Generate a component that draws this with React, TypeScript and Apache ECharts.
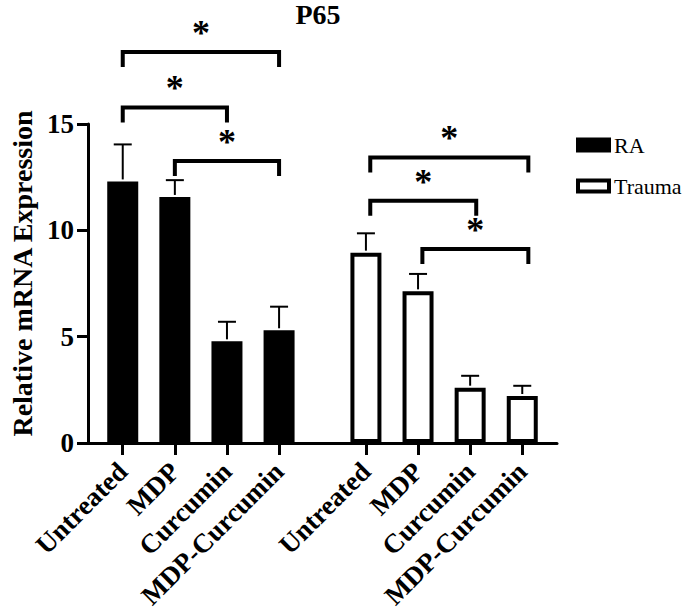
import React, { useEffect, useRef } from "react";
import * as echarts from "echarts";

// ---------------- data ----------------
const groups = ["RA", "Trauma"];
const treatments = ["Untreated", "MDP", "Curcumin", "MDP-Curcumin"];
const raMeans = [12.3, 11.57, 4.78, 5.3];
const raUpper = [14.04, 12.36, 5.7, 6.41];
const traumaMeans = [8.95, 7.13, 2.6, 2.21];
const traumaUpper = [9.86, 7.95, 3.16, 2.69];
const yTicks = [0, 5, 10, 15];
const titleText = "P65";
const yName = "Relative mRNA Expression";
// significance brackets: [fromIndex, toIndex, level]
const raBrackets = [
  [0, 3, 18.38],
  [0, 2, 15.78],
  [1, 3, 13.26],
];
const traumaBrackets = [
  [0, 3, 13.43],
  [0, 2, 11.39],
  [1, 3, 9.12],
];
const sigMark = "*";

// ---------------- layout (x positions in axis units) ----------------
const firstPos = 2;
const stepPos = 3;
const groupOffset = 14;
const xMax = 27;
const pos = (g: number, i: number) => firstPos + g * groupOffset + i * stepPos;

const allPositions: number[] = [];
const allLabels: string[] = [];
groups.forEach((_, g) =>
  treatments.forEach((t, i) => {
    allPositions.push(pos(g, i));
    allLabels.push(t);
  })
);

const FONT = '"Liberation Serif", "Times New Roman", serif';

export default function App() {
  const ref = useRef<HTMLDivElement>(null);
  useEffect(() => {
    document.body.style.margin = "0";
    if (!ref.current) return;
    const chart = echarts.init(ref.current, undefined, { renderer: "svg" });

    const errData = [
      ...raMeans.map((m, i) => [pos(0, i), m, raUpper[i]]),
      ...traumaMeans.map((m, i) => [pos(1, i), m, traumaUpper[i]]),
    ];
    const brData = [
      ...raBrackets.map((b) => [pos(0, b[0]), pos(0, b[1]), b[2]]),
      ...traumaBrackets.map((b) => [pos(1, b[0]) + 0.25, pos(1, b[1]) + 0.35, b[2]]),
    ];

    chart.setOption({
      animation: false,
      title: {
        text: titleText,
        left: 318,
        textAlign: "center",
        top: 0,
        padding: 0,
        textStyle: { fontFamily: FONT, fontWeight: "bold", fontSize: 28, color: "#000" },
      },
      legend: {
        data: groups,
        orient: "vertical",
        left: 576,
        top: 134,
        padding: 0,
        itemWidth: 31,
        itemHeight: 11,
        itemGap: 19,
        icon: "rect",
        itemStyle: { borderWidth: 4, borderColor: "#000" },
        textStyle: { fontFamily: FONT, fontSize: 22, color: "#000", lineHeight: 22, padding: [0, 0, 0, 0] },
      },
      grid: { left: 77, right: 128, top: 124, bottom: 170 },
      xAxis: {
        type: "value",
        min: 0,
        max: xMax,
        splitLine: { show: false },
        axisLine: { show: true, lineStyle: { color: "#000", width: 3 } },
        axisTick: { show: true, length: 12, lineStyle: { color: "#000", width: 3 }, customValues: allPositions },
        axisLabel: {
          customValues: allPositions,
          formatter: (v: number) => {
            const k = allPositions.findIndex((p) => Math.abs(p - v) < 1e-6);
            return k >= 0 ? allLabels[k] : "";
          },
          rotate: 45,
          margin: 24,
          padding: [24, 0, 0, 0],
          fontFamily: FONT,
          fontWeight: "bold",
          fontSize: 27,
          color: "#000",
        },
      },
      yAxis: {
        type: "value",
        min: 0,
        max: 15,
        interval: 5,
        splitLine: { show: false },
        axisLine: { show: true, lineStyle: { color: "#000", width: 3 } },
        axisTick: { show: true, length: 11, lineStyle: { color: "#000", width: 3 } },
        axisLabel: {
          margin: 14,
          fontFamily: FONT,
          fontWeight: "bold",
          fontSize: 27,
          color: "#000",
          formatter: (v: number) => (yTicks.includes(v) ? String(v) : ""),
        },
        name: yName,
        nameLocation: "middle",
        nameGap: 52,
        nameTextStyle: { fontFamily: FONT, fontWeight: "bold", fontSize: 28, color: "#000", padding: [0, 0, 0, 20] },
      },
      series: [
        {
          name: groups[0],
          type: "bar",
          barWidth: 31,
          barGap: "-100%",
          data: raMeans.map((v, i) => [pos(0, i), v]),
          itemStyle: { color: "#000", borderColor: "#000", borderWidth: 4 },
        },
        {
          name: groups[1],
          type: "bar",
          barWidth: 31,
          barGap: "-100%",
          data: traumaMeans.map((v, i) => [pos(1, i), v]),
          itemStyle: { color: "#fff", borderColor: "#000", borderWidth: 4 },
        },
        {
          type: "custom",
          name: "err",
          z: 3,
          encode: { x: 0, y: [1, 2] },
          data: errData,
          renderItem: (params: any, api: any) => {
            const x = api.value(0);
            const p0 = api.coord([x, api.value(1)]);
            const p1 = api.coord([x, api.value(2)]);
            const st = { stroke: "#000", lineWidth: 2 };
            return {
              type: "group",
              children: [
                { type: "line", shape: { x1: p0[0], y1: p0[1] - 2, x2: p1[0], y2: p1[1] }, style: st },
                { type: "line", shape: { x1: p1[0] - 9, y1: p1[1], x2: p1[0] + 9, y2: p1[1] }, style: st },
              ],
            };
          },
        },
        {
          type: "custom",
          name: "sig",
          z: 4,
          clip: false,
          encode: { x: [0, 1], y: 2 },
          data: brData,
          renderItem: (params: any, api: any) => {
            const a = api.coord([api.value(0), api.value(2)]);
            const b = api.coord([api.value(1), api.value(2)]);
            const leg = 15;
            return {
              type: "group",
              children: [
                {
                  type: "polyline",
                  shape: {
                    points: [
                      [a[0], a[1] + leg],
                      [a[0], a[1]],
                      [b[0], b[1]],
                      [b[0], b[1] + leg],
                    ],
                  },
                  style: { stroke: "#000", lineWidth: 4, fill: "none", lineJoin: "miter", lineCap: "butt" },
                },
                {
                  type: "text",
                  x: (a[0] + b[0]) / 2,
                  y: a[1] - 19,
                  style: {
                    text: sigMark,
                    fill: "#000",
                    fontFamily: FONT,
                    fontWeight: "bold",
                    fontSize: 36,
                    align: "center",
                    verticalAlign: "middle",
                  },
                },
              ],
            };
          },
        },
      ],
    });
    return () => chart.dispose();
  }, []);
  return <div ref={ref} style={{ width: 685, height: 613 }} />;
}
